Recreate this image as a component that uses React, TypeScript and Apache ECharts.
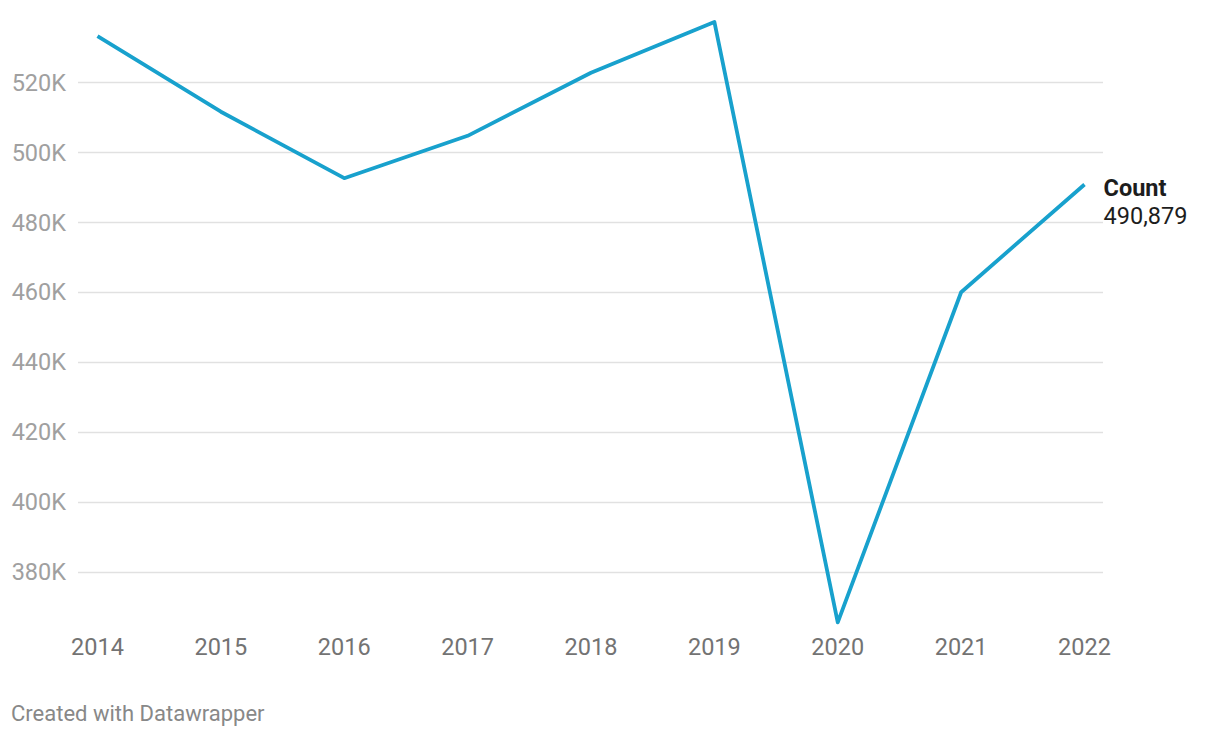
import React, { useEffect, useRef } from "react";
import * as echarts from "echarts";

const years = [2014, 2015, 2016, 2017, 2018, 2019, 2020, 2021, 2022];
const counts = [533360, 511700, 492680, 504800, 522850, 537370, 365610, 460050, 490879];
const yTicks = [380000, 400000, 420000, 440000, 460000, 480000, 500000, 520000];
const seriesName = "Count";

const FONT = "Roboto, 'Noto Sans', sans-serif";

export default function App() {
  const ref = useRef<HTMLDivElement>(null);
  useEffect(() => {
    if (!ref.current) return;
    const chart = echarts.init(ref.current, null, { renderer: "svg" });
    const last = years.length - 1;
    const data = years.map((y, i) => [y, counts[i]]);
    chart.setOption({
      animation: false,
      backgroundColor: "#ffffff",
      grid: { left: 78, right: 117, top: 12.8, bottom: 96.1, outerBoundsMode: "none" },
      xAxis: {
        type: "value",
        min: 2014 - 19.5 / 123.4,
        max: 2022 + 18.5 / 123.4,
        axisLine: { show: false },
        axisTick: { show: false },
        splitLine: { show: false },
        axisLabel: {
          customValues: years,
          formatter: (v: number) => String(Math.round(v)),
          color: "#737373",
          fontFamily: FONT,
          fontSize: 23.5,
          margin: -7,
        },
      },
      yAxis: {
        type: "value",
        min: 360000,
        max: 540000,
        interval: 20000,
        axisLine: { show: false },
        axisTick: { show: false },
        splitLine: { show: true, showMinLine: false, showMaxLine: false, lineStyle: { color: "#e1e1e1", width: 1.3 } },
        axisLabel: {
          showMinLabel: false,
          showMaxLabel: false,
          formatter: (v: number) => (yTicks.includes(v) ? `${v / 1000}K` : ""),
          color: "#a0a0a0",
          fontFamily: FONT,
          fontSize: 23.5,
          margin: 12,
        },
      },
      graphic: [
        {
          type: "text",
          left: 11,
          top: 702,
          style: { text: "Created with Datawrapper", fill: "#888888", font: `22px ${FONT}` },
        },
      ],
      series: [
        {
          name: seriesName,
          type: "line",
          data,
          symbol: "none",
          lineStyle: { color: "#18a1cd", width: 3.8, join: "round" },
          itemStyle: { color: "#18a1cd" },
          endLabel: {
            show: true,
            distance: 19,
            offset: [0, 18],
            formatter: () => `{b|${seriesName}}\n{v|${counts[last].toLocaleString("en-US")}}`,
            rich: {
              b: { fontFamily: FONT, fontSize: 23.5, fontWeight: "bold", color: "#1d1d1d", lineHeight: 28 },
              v: { fontFamily: FONT, fontSize: 23.5, color: "#1d1d1d", lineHeight: 28 },
            },
          },
        },
      ],
    });
    return () => chart.dispose();
  }, []);
  return <div ref={ref} style={{ position: "fixed", left: 0, top: 0, width: 1220, height: 738 }} />;
}
